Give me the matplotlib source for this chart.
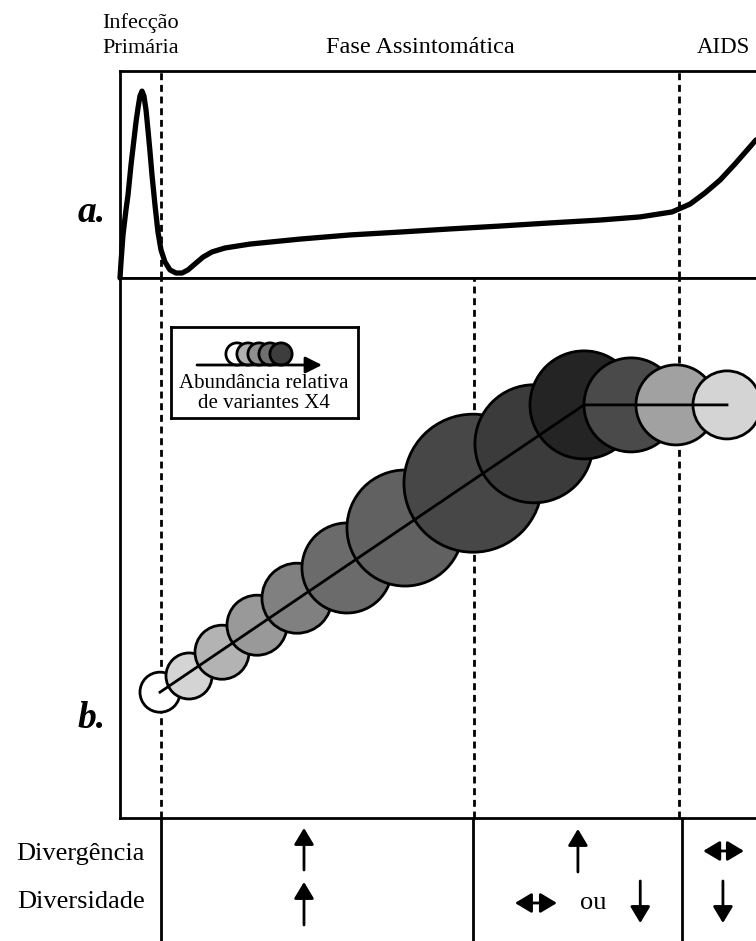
import matplotlib.pyplot as plt
import numpy as np

plt.rcParams['font.family'] = ['Liberation Serif', 'DejaVu Serif']

# time axis in arbitrary units (0-10), phases of infection
phase_edges = [0.0, 0.645, 8.79, 10.2]
phase_names = ['Infecção\nPrimária', 'Fase Assintomática', 'AIDS']
mid_split = 5.57

# a. viral load (arbitrary units)
load_t = [0, 0.016, 0.047, 0.094, 0.126, 0.173, 0.204, 0.252, 0.283, 0.314, 0.346,
          0.377, 0.409, 0.44, 0.472, 0.503, 0.55, 0.597, 0.645, 0.708, 0.786, 0.881,
          0.975, 1.069, 1.179, 1.305, 1.447, 1.651, 2.044, 2.83, 3.616, 4.403, 5.189,
          5.975, 6.761, 7.547, 8.176, 8.679, 8.962, 9.198, 9.434, 9.67, 10.0]
load_v = [0, 0.077, 0.208, 0.329, 0.401, 0.546, 0.628, 0.754, 0.821, 0.879, 0.903,
          0.879, 0.812, 0.715, 0.609, 0.498, 0.353, 0.222, 0.135, 0.077, 0.039, 0.024,
          0.024, 0.039, 0.068, 0.101, 0.126, 0.145, 0.164, 0.188, 0.208, 0.222, 0.237,
          0.251, 0.266, 0.28, 0.295, 0.319, 0.357, 0.411, 0.473, 0.551, 0.667]

# b. divergence of viral population (bubbles)
bub_t = [0.629, 1.085, 1.604, 2.154, 2.783, 3.569, 4.481, 5.55, 6.509, 7.296, 8.035, 8.742, 9.544]
bub_div = [23.3, 26.3, 30.7, 35.7, 40.7, 46.3, 53.7, 62.0, 69.3, 76.5, 76.5, 76.5, 76.5]
bub_size = [2.1, 2.4, 2.8, 3.1, 3.6, 4.6, 5.9, 7.0, 6.0, 5.5, 4.8, 4.1, 3.5]
bub_x4 = [0.0, 0.17, 0.30, 0.40, 0.50, 0.58, 0.62, 0.72, 0.77, 0.86, 0.71, 0.37, 0.17]
trend_idx = [0, 9, 12]

legend_x4 = [0.0, 0.31, 0.44, 0.56, 0.76]

# bottom table
row_labels = ['Divergência', 'Diversidade']
table_edges = [0.645, 5.55, 8.84]

W, H = 756, 941
LW = 2.0
fig = plt.figure(figsize=(W / 100, H / 100), dpi=100)


def box(l, t, r, b):
    return [l / W, 1 - b / H, (r - l) / W, (b - t) / H]


def arrow(ax, x0, y0, x1, y1, style='-|>', hl=0.5, hw=0.3, lw=LW):
    ax.annotate('', xy=(x1, y1), xytext=(x0, y0), xycoords=ax.transData,
                arrowprops=dict(arrowstyle=f'{style},head_length={hl},head_width={hw}',
                                lw=lw, color='black', mutation_scale=20,
                                shrinkA=0, shrinkB=0), annotation_clip=False)


ax_a = fig.add_axes(box(120, 71, 756, 278))
ax_b = fig.add_axes(box(120, 278, 756, 818))
ax_t = fig.add_axes(box(120, 818, 756, 941))
ax_t.patch.set_visible(False)

for ax in (ax_a, ax_b, ax_t):
    ax.set_xlim(0, 10)
    ax.set_xticks([])
    ax.set_yticks([])
    ax.spines['right'].set_visible(False)
    for s in ax.spines.values():
        s.set_linewidth(LW)

ax_a.set_ylim(0, 1)
ax_b.set_ylim(0, 100)
ax_t.set_ylim(0, 1)
for s in ax_t.spines.values():
    s.set_visible(False)

# panel a
ax_a.plot(load_t, load_v, color='black', lw=3.8, solid_capstyle='round', clip_on=False, zorder=3)
for x in phase_edges[1:3]:
    ax_a.axvline(x, color='black', lw=LW, ls=(0, (2.5, 1.7)))
for i, (name, fs) in enumerate(zip(phase_names, [16, 17.5, 16.5])):
    xm = (phase_edges[i] + phase_edges[i + 1]) / 2
    ax_a.text(xm, 1.087, name, transform=ax_a.get_xaxis_transform(), ha='center',
              va='baseline', fontsize=fs, linespacing=1.45)

# panel b
for x in [phase_edges[1], mid_split, phase_edges[2]]:
    ax_b.axvline(x, color='black', lw=LW, ls=(0, (2.5, 1.7)), zorder=1)
sizes = [(1.44 * r * 10 - 1.4) ** 2 for r in bub_size]
colors = [str(1 - v) for v in bub_x4]
ax_b.scatter(bub_t, bub_div, s=sizes, c=colors, edgecolors='black', linewidths=LW,
             zorder=2, clip_on=False)
ax_b.plot([bub_t[i] for i in trend_idx], [bub_div[i] for i in trend_idx],
          color='black', lw=LW, zorder=3)

# legend box
ax_l = fig.add_axes(box(171, 327, 358, 418))
ax_l.set_xlim(0, 187)
ax_l.set_ylim(0, 91)
ax_l.set_xticks([])
ax_l.set_yticks([])
for s in ax_l.spines.values():
    s.set_linewidth(LW)
lx = 66 + 11 * np.arange(len(legend_x4))
ax_l.scatter(lx, np.full(len(lx), 64), s=16 ** 2, c=[str(1 - v) for v in legend_x4],
             edgecolors='black', linewidths=LW, zorder=2)
arrow(ax_l, 26, 53, 151, 53, hl=0.5, hw=0.25)
ax_l.text(93, 35, 'Abundância relativa', ha='center', va='center', fontsize=15)
ax_l.text(93, 15, 'de variantes X4', ha='center', va='center', fontsize=15)

fig.text(92 / W, 1 - 212 / H, 'a.', fontsize=27, fontweight='bold', fontstyle='italic',
         ha='center', va='center')
fig.text(92 / W, 1 - 718 / H, 'b.', fontsize=27, fontweight='bold', fontstyle='italic',
         ha='center', va='center')

# table
for x in table_edges:
    ax_t.axvline(x, color='black', lw=LW)
ax_t.text(0.39, 0.707, row_labels[0], ha='right', va='center', fontsize=19)
ax_t.text(0.39, 0.317, row_labels[1], ha='right', va='center', fontsize=19)

# divergence row
arrow(ax_t, 2.893, 0.577, 2.893, 0.919)
arrow(ax_t, 7.2, 0.561, 7.2, 0.911)
arrow(ax_t, 9.17, 0.732, 9.81, 0.732, style='<|-|>')
# diversity row
arrow(ax_t, 2.893, 0.13, 2.893, 0.48)
arrow(ax_t, 6.21, 0.309, 6.87, 0.309, style='<|-|>')
ax_t.text(7.44, 0.309, 'ou', ha='center', va='center', fontsize=19)
arrow(ax_t, 8.18, 0.488, 8.18, 0.146)
arrow(ax_t, 9.48, 0.488, 9.48, 0.146)

fig.savefig('out.png', dpi=100)
